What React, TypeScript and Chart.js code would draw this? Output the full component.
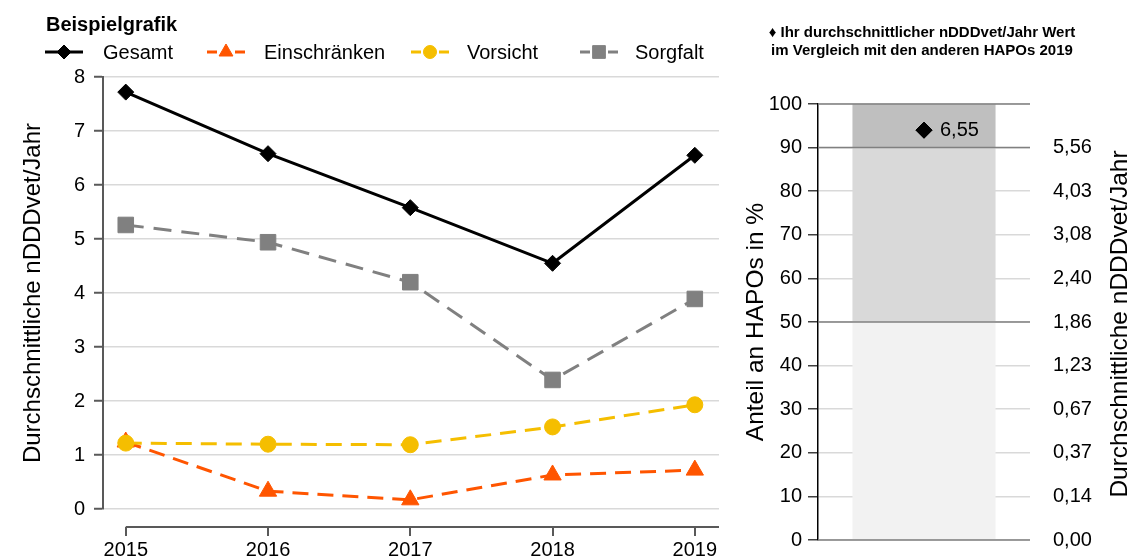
import React, { useEffect, useRef } from 'react';
import { Chart, registerables } from 'chart.js';
import { drawPoint } from 'chart.js/helpers';

Chart.register(...registerables);

// ---------- data ----------
const years = [2015, 2016, 2017, 2018, 2019];
const gesamt = [7.72, 6.58, 5.58, 4.55, 6.55];
const einschraenken = [1.24, 0.33, 0.17, 0.63, 0.72];
const vorsicht = [1.22, 1.2, 1.19, 1.52, 1.93];
const sorgfalt = [5.26, 4.94, 4.2, 2.39, 3.89];
const seriesNames = ['Gesamt', 'Einschränken', 'Vorsicht', 'Sorgfalt'];

const chartTitle = 'Beispielgrafik';
const leftAxisTitle = 'Durchschnittliche nDDDvet/Jahr';

const bandLower = [0, 50, 90];
const bandUpper = [50, 90, 100];
const thresholdLines = [0, 50, 90, 100];
const nddTickLabels = ['0,00', '0,14', '0,37', '0,67', '1,23', '1,86', '2,40', '3,08', '4,03', '5,56', ''];
const markerPercent = [94];
const markerLabel = '6,55';
const headerLines = ['\u2666 Ihr durchschnittlicher nDDDvet/Jahr Wert', 'im Vergleich mit den anderen HAPOs 2019'];
const percentAxisTitle = 'Anteil an HAPOs in %';
const rightAxisTitle = 'Durchschnittliche nDDDvet/Jahr';

// ---------- styles ----------
const FONT = "'Liberation Sans', Arial, Helvetica, sans-serif";
const seriesValues = [gesamt, einschraenken, vorsicht, sorgfalt];
const seriesColors = ['#000000', '#FF5500', '#F5BE00', '#808080'];
const seriesDash = [[], [16, 9], [16, 9], [18, 10]];
const seriesPoint = ['rectRot', 'triangle', 'circle', 'rect'];
const seriesRadius = [8, 10, 8, 11];
const legendRadius = [7, 8, 6.5, 9];
const legendSymbolX = [45, 207, 411, 580];
const legendTextX = [103, 264, 467, 635];
const bandColors = ['#F2F2F2', '#D9D9D9', '#BFBFBF'];

const noPad = (s: any) => {
  s.paddingLeft = 0;
  s.paddingRight = 0;
  s.paddingTop = 0;
  s.paddingBottom = 0;
};

export default function App() {
  const leftRef = useRef<HTMLCanvasElement>(null);
  const rightRef = useRef<HTMLCanvasElement>(null);

  useEffect(() => {
    document.body.style.margin = '0';

    const leftDecor = {
      id: 'leftDecor',
      afterDraw(chart: any) {
        const { ctx, chartArea, scales } = chart;
        const x = scales.x;
        ctx.save();
        // offset x-axis line with tick marks
        const axisY = 527;
        ctx.strokeStyle = '#595959';
        ctx.lineWidth = 2;
        ctx.setLineDash([]);
        ctx.beginPath();
        ctx.moveTo(x.getPixelForValue(years[0]), axisY);
        ctx.lineTo(chartArea.right, axisY);
        years.forEach((yr) => {
          const px = Math.round(x.getPixelForValue(yr));
          ctx.moveTo(px, axisY);
          ctx.lineTo(px, axisY + 9);
        });
        ctx.stroke();

        // title
        ctx.fillStyle = '#000';
        ctx.font = `bold 20px ${FONT}`;
        ctx.textAlign = 'left';
        ctx.textBaseline = 'alphabetic';
        ctx.fillText(chartTitle, 46, 31);

        // legend
        const ly = 52;
        seriesNames.forEach((name, i) => {
          const sx = legendSymbolX[i];
          ctx.strokeStyle = seriesColors[i];
          ctx.fillStyle = seriesColors[i];
          ctx.lineWidth = 3;
          ctx.setLineDash([]);
          ctx.beginPath();
          if (seriesDash[i].length === 0) {
            ctx.moveTo(sx, ly);
            ctx.lineTo(sx + 38, ly);
          } else {
            ctx.moveTo(sx, ly);
            ctx.lineTo(sx + 10, ly);
            ctx.moveTo(sx + 28, ly);
            ctx.lineTo(sx + 38, ly);
          }
          ctx.stroke();
          ctx.lineWidth = 1;
          drawPoint(ctx, { pointStyle: seriesPoint[i] as any, radius: legendRadius[i], rotation: 0, borderWidth: 1 }, sx + 19, ly);
          ctx.fillStyle = '#000';
          ctx.font = `20px ${FONT}`;
          ctx.textAlign = 'left';
          ctx.textBaseline = 'alphabetic';
          ctx.fillText(name, legendTextX[i], 59);
        });
        ctx.restore();
      },
    };

    const left = new Chart(leftRef.current!, {
      type: 'line',
      data: {
        datasets: seriesNames.map((name, i) => ({
          label: name,
          data: years.map((yr, j) => ({ x: yr, y: seriesValues[i][j] })),
          borderColor: seriesColors[i],
          backgroundColor: seriesColors[i],
          pointBackgroundColor: seriesColors[i],
          pointBorderColor: seriesColors[i],
          pointBorderWidth: 1,
          borderWidth: 3,
          borderDash: seriesDash[i],
          borderCapStyle: 'butt',
          pointStyle: seriesPoint[i] as any,
          pointRadius: seriesRadius[i],
          tension: 0,
          clip: false as any,
          order: seriesNames.length - 1 - i,
        })),
      },
      options: {
        animation: false,
        responsive: false,
        layout: { padding: { left: 0, right: 1, top: 77, bottom: 0 } },
        plugins: { legend: { display: false }, tooltip: { enabled: false } },
        scales: {
          x: {
            type: 'linear',
            min: 2014.84,
            max: 2019.17,
            afterBuildTicks: (s: any) => {
              s.ticks = years.map((v) => ({ value: v }));
            },
            afterFit: (s: any) => {
              s.height = 50;
              noPad(s);
            },
            grid: { display: false, drawTicks: false },
            border: { display: false },
            ticks: {
              padding: 29,
              autoSkip: false,
              maxRotation: 0,
              color: '#000',
              font: { family: FONT, size: 20 },
              callback: (v: any) => String(v),
            },
          },
          y: {
            min: 0,
            max: 8,
            afterFit: (s: any) => {
              s.width = 103;
              noPad(s);
            },
            ticks: { stepSize: 1, padding: 9, color: '#000', font: { family: FONT, size: 20 } },
            grid: { color: '#D9D9D9', lineWidth: 1.5, tickColor: '#595959', tickLength: 9, tickWidth: 2 },
            border: { color: '#595959', width: 2 },
            title: {
              display: true,
              text: leftAxisTitle,
              color: '#000',
              font: { family: FONT, size: 24 },
              padding: { top: 19, bottom: 0 },
            },
          },
        },
      } as any,
      plugins: [leftDecor],
    });

    const rightDecor = {
      id: 'rightDecor',
      afterDatasetsDraw(chart: any) {
        const { ctx, chartArea, scales } = chart;
        const y = scales.y;
        ctx.save();
        ctx.strokeStyle = '#808080';
        ctx.lineWidth = 1.5;
        ctx.setLineDash([]);
        thresholdLines.forEach((v) => {
          const py = y.getPixelForValue(v);
          ctx.beginPath();
          ctx.moveTo(chartArea.left, py);
          ctx.lineTo(chartArea.right, py);
          ctx.stroke();
        });
        const pt = chart.getDatasetMeta(0).data[0];
        ctx.fillStyle = '#000';
        ctx.strokeStyle = '#000';
        ctx.lineWidth = 1;
        drawPoint(ctx, { pointStyle: 'rectRot', radius: 8, rotation: 0, borderWidth: 1 }, pt.x, pt.y);
        ctx.font = `20px ${FONT}`;
        ctx.textAlign = 'left';
        ctx.textBaseline = 'middle';
        ctx.fillText(markerLabel, pt.x + 16, pt.y);
        ctx.restore();
      },
      afterDraw(chart: any) {
        const { ctx, chartArea } = chart;
        ctx.save();
        ctx.fillStyle = '#000';
        ctx.font = `bold 15px ${FONT}`;
        ctx.textAlign = 'center';
        ctx.textBaseline = 'alphabetic';
        ctx.fillText(headerLines[0], 197, 37);
        ctx.fillText(headerLines[1], 197, 55);
        // right axis title (reads bottom to top)
        ctx.font = `24.5px ${FONT}`;
        ctx.translate(402, (chartArea.top + chartArea.bottom) / 2 + 2);
        ctx.rotate(-Math.PI / 2);
        ctx.textAlign = 'center';
        ctx.textBaseline = 'alphabetic';
        ctx.fillText(rightAxisTitle, 0, 0);
        ctx.restore();
      },
    };

    const right = new Chart(rightRef.current!, {
      type: 'bar',
      data: {
        labels: [''],
        datasets: [
          {
            type: 'line',
            data: markerPercent,
            showLine: false,
            pointStyle: 'rectRot',
            pointRadius: 8,
            pointBackgroundColor: '#000',
            pointBorderColor: '#000',
            borderColor: '#000',
            yAxisID: 'y',
            order: 0,
          } as any,
          ...bandLower.map((lo, i) => ({
            type: 'bar',
            data: [[lo, bandUpper[i]]],
            backgroundColor: bandColors[i],
            borderWidth: 0,
            grouped: false,
            barPercentage: 0.675,
            categoryPercentage: 1,
            yAxisID: 'y',
            order: 1,
          })),
        ],
      },
      options: {
        animation: false,
        responsive: false,
        layout: { padding: { left: 0, right: 0, top: 104, bottom: 0 } },
        plugins: { legend: { display: false }, tooltip: { enabled: false } },
        scales: {
          x: {
            afterFit: (s: any) => {
              s.height = 19;
              noPad(s);
            },
            ticks: { display: false },
            grid: { display: false, drawTicks: false },
            border: { display: false },
          },
          y: {
            position: 'left',
            min: 0,
            max: 100,
            afterFit: (s: any) => {
              s.width = 93;
              noPad(s);
            },
            ticks: { stepSize: 10, padding: 6, color: '#000', font: { family: FONT, size: 20 } },
            grid: { color: '#D9D9D9', lineWidth: 1.5, tickColor: '#404040', tickLength: 10, tickWidth: 1.5 },
            border: { color: '#000', width: 1.5 },
            title: {
              display: true,
              text: percentAxisTitle,
              color: '#000',
              font: { family: FONT, size: 24.5 },
              padding: { top: 17, bottom: 0 },
            },
          },
          y2: {
            position: 'right',
            min: 0,
            max: 100,
            afterFit: (s: any) => {
              s.width = 98;
              noPad(s);
            },
            ticks: {
              stepSize: 10,
              padding: 23,
              color: '#000',
              font: { family: FONT, size: 20 },
              callback: (_v: any, i: number) => nddTickLabels[i] ?? '',
            },
            grid: { display: false, drawTicks: false },
            border: { display: false },
          },
        },
      } as any,
      plugins: [rightDecor],
    });

    return () => {
      left.destroy();
      right.destroy();
    };
  }, []);

  return (
    <div style={{ position: 'absolute', left: 0, top: 0, width: 1128, height: 559, background: '#fff' }}>
      <canvas ref={leftRef} width={731} height={559} style={{ position: 'absolute', left: 0, top: 0 }} />
      <canvas ref={rightRef} width={403} height={559} style={{ position: 'absolute', left: 725, top: 0 }} />
    </div>
  );
}
